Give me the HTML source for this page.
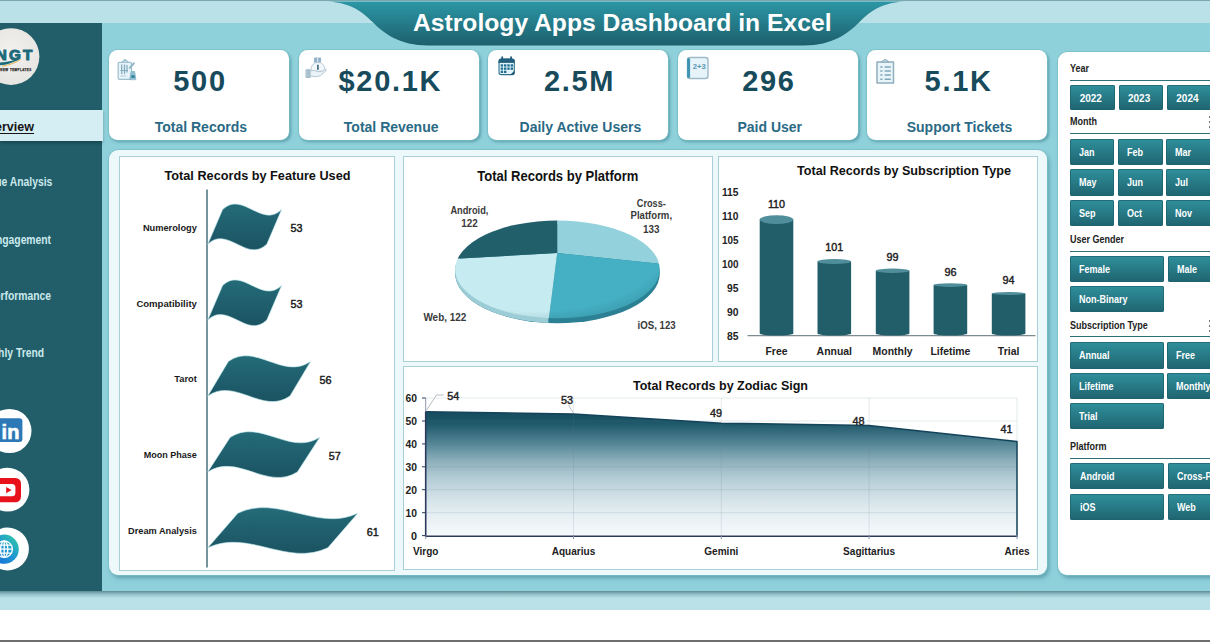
<!DOCTYPE html>
<html><head><meta charset="utf-8"><title>Astrology Apps Dashboard in Excel</title>
<style>
html,body{margin:0;padding:0;width:1210px;height:642px;overflow:hidden;}
#root{position:absolute;left:0;top:0;width:1210px;height:642px;overflow:hidden;background:#8fd1db;}
body{width:1210px;height:642px;overflow:hidden;position:relative;background:#8fd1db;font-family:"Liberation Sans", sans-serif;}
.abs{position:absolute;}
.card{position:absolute;top:50.300px;height:90.200px;width:180.200px;background:#fff;border-radius:8.500px;box-shadow:0 0 0 .8px #79bfc6, 1.500px 2px 3px rgba(40,110,125,.5);}
.card .num{position:absolute;left:0;right:0;top:13.900px;text-align:center;font-weight:bold;font-size:29px;line-height:34px;color:#174a5b;letter-spacing:1.700px;padding-left:2.700px;}
.card .lbl{position:absolute;left:0;right:0;top:68.400px;text-align:center;font-weight:bold;font-size:14px;line-height:16px;color:#2a6a85;padding-left:4.400px;}
.panel{position:absolute;background:#fff;border-radius:9px;box-shadow:0 0 0 .8px #79bfc6, 2px 3px 4px rgba(40,110,125,.5);}
.box{position:absolute;border:1.500px solid #a9cfd6;background:#fff;box-sizing:border-box;}
.nav{position:absolute;right:0;white-space:nowrap;font-weight:bold;font-size:12px;color:#cbe9ed;line-height:14px;transform:scaleX(.86);transform-origin:100% 50%;}
.btn{position:absolute;height:26px;border-radius:2px;background:linear-gradient(#2f909c,#1f6470);box-shadow:inset 0 0 0 .8px #1f6370;color:#fff;font-weight:bold;font-size:10px;line-height:26px;box-sizing:border-box;padding-left:9px;white-space:nowrap;overflow:hidden;}
.hd{position:absolute;left:1069.5px;font-weight:bold;font-size:10px;color:#222;line-height:12px;white-space:nowrap;transform:scaleX(.9);transform-origin:0 50%;}
.btn span{display:inline-block;transform:scaleX(.9);transform-origin:0 50%;}
.hl{position:absolute;left:1069.5px;right:0;height:1px;background:#2d7078;}
svg text{font-family:"Liberation Sans", sans-serif;}
</style></head><body><div id="root">

<div class="abs" style="left:0;top:0;width:1210px;height:22.5px;background:#b9e1e7;"></div>
<div class="abs" style="left:0;top:0;width:1210px;height:1.200px;background:linear-gradient(#86b0b5,#6c9fa6);"></div>
<div class="abs" style="left:0;top:591px;width:1210px;height:18.5px;background:linear-gradient(#5f8a93 0,#8fbec6 3px,#b9e1e7 7px,#b9e1e7 100%);"></div>
<div class="abs" style="left:0;top:609.5px;width:1210px;height:33px;background:#fff;"></div>
<div class="abs" style="left:0;top:640px;width:1210px;height:2px;background:#6e6e6e;"></div>
<svg class="abs" style="left:0px;top:0px" width="1210" height="60" viewBox="0 0 1210 60">
<defs><linearGradient id="tg" x1="0" y1="0" x2="0" y2="1"><stop offset="0" stop-color="#2c97a5"/><stop offset="1" stop-color="#1d5f6d"/></linearGradient></defs>
<path d="M328,1.5 C352,3 362,12 372.6,22 C383,33 400,45.5 428,45.5 L804,45.5 C832,45.5 849,33 859.4,22 C870,12 880,3 904,1.5 Z" fill="url(#tg)"/>
<text x="413" y="31.3" font-size="23" font-weight="bold" fill="#ffffff" textLength="418.5" lengthAdjust="spacingAndGlyphs">Astrology Apps Dashboard in Excel</text>
</svg>
<div class="abs" style="left:0;top:22.5px;width:101.5px;height:568.5px;background:#215e69;"></div>
<div class="abs" style="left:0;top:109.5px;width:103px;height:31px;background:#d5eef3;box-shadow:0 2px 3px rgba(0,0,0,.25);"></div>
<div class="abs" style="left:0;top:119px;width:34px;height:16px;"><div class="nav" style="font-size:13.500px;color:#151515;text-decoration:underline;text-decoration-thickness:1px;text-underline-offset:1.500px;line-height:16px;transform:scaleX(.93);">Overview</div></div>
<div class="abs" style="left:0;top:175.3px;width:52px;height:14px;"><div class="nav">Revenue Analysis</div></div>
<div class="abs" style="left:0;top:232.7px;width:51.4px;height:14px;"><div class="nav">User Engagement</div></div>
<div class="abs" style="left:0;top:289px;width:51px;height:14px;"><div class="nav">App Performance</div></div>
<div class="abs" style="left:0;top:346px;width:44px;height:14px;"><div class="nav">Monthly Trend</div></div>
<svg class="abs" style="left:0px;top:22px" width="60" height="70" viewBox="0 22 60 70">
<defs><radialGradient id="lg" cx="0.5" cy="0.45" r="0.6"><stop offset="0" stop-color="#f3f2f0"/><stop offset="1" stop-color="#e6e4e1"/></radialGradient></defs>
<circle cx="11" cy="56.6" r="28.4" fill="url(#lg)"/>
<text x="34.6" y="60.200" font-size="15.300" font-weight="bold" fill="#1c6a79" stroke="#1c6a79" stroke-width="1" text-anchor="end" letter-spacing="2.2">NGT</text>
<path d="M-4,62.600 C5,62.600 13,61 20.500,58 C15,62.500 6,65.300 -4,65.600 Z" fill="#1c6a79"/>
<path d="M2,66.300 C10,65 16,62.500 20.500,59.500" stroke="#e0a52a" stroke-width="0.8" fill="none"/>
<text x="31.700" y="71.100" font-size="2.900" stroke="#333" stroke-width="0.250" font-weight="bold" fill="#333" text-anchor="end" letter-spacing="0.5">NEW TEMPLATES</text>
</svg>
<svg class="abs" style="left:0px;top:400px" width="60" height="180" viewBox="0 400 60 180">
<defs><linearGradient id="gg" x1="0" y1="1" x2="1" y2="0"><stop offset="0" stop-color="#1565d8"/><stop offset="0.55" stop-color="#1f9ad0"/><stop offset="1" stop-color="#35cfa0"/></linearGradient></defs>
<circle cx="9.4" cy="431" r="22.1" fill="#fff"/>
<rect x="-10" y="418.2" width="32.4" height="23.8" rx="3" fill="#2d78b7"/>
<text x="19.4" y="438.6" font-size="20" font-weight="bold" fill="#fff" stroke="#fff" stroke-width="0.6" text-anchor="end">in</text>
<circle cx="7.5" cy="489.7" r="21.9" fill="#fff"/>
<rect x="-12" y="478" width="33" height="24.3" rx="5.5" fill="#e8131a"/>
<rect x="-6" y="484" width="21.4" height="12.2" rx="3.5" fill="#fff"/>
<path d="M6.2,487 L11.6,490.1 L6.2,493.2 Z" fill="#e8131a"/>
<circle cx="7.5" cy="549" r="21.4" fill="#fff"/>
<circle cx="4.2" cy="549.2" r="14.6" fill="url(#gg)"/>
<g fill="none" stroke="#fff" stroke-width="1.3"><circle cx="4.2" cy="549.2" r="8.2"/><ellipse cx="4.2" cy="549.2" rx="3.6" ry="8.2"/><path d="M-4,549.2H12.4M-3,545.2H11.4M-3,553.2H11.4M4.2,541V557.4"/></g>
</svg>
<div class="card" style="left:108.6px;"><div class="num">500</div><div class="lbl">Total Records</div></div>
<div class="card" style="left:298.9px;"><div class="num">$20.1K</div><div class="lbl">Total Revenue</div></div>
<div class="card" style="left:488.1px;"><div class="num">2.5M</div><div class="lbl">Daily Active Users</div></div>
<div class="card" style="left:677.5px;"><div class="num">296</div><div class="lbl">Paid User</div></div>
<div class="card" style="left:867.2px;"><div class="num">5.1K</div><div class="lbl">Support Tickets</div></div>
<svg class="abs" style="left:100px;top:50px" width="960" height="50" viewBox="100 50 960 50">
<g fill="none" stroke-linejoin="round" stroke-linecap="round">
 <!-- records icon: clipboard + pencil + mini chart -->
 <rect x="118.200" y="62.300" width="13.300" height="17" rx="1" fill="#e6f3f8" stroke="#9fc0cf" stroke-width="1.200"/>
 <path d="M121.500,62.300 L125,59.300 L128.500,62.300 Z" fill="#d3e6ee" stroke="#9fc0cf" stroke-width="1.100"/>
 <path d="M121.700,65 V73.500 M124.500,65 V73.500 M127,65.500 V72" stroke="#86adc0" stroke-width="1.300"/>
 <path d="M120.800,70.500 H127.500" stroke="#86adc0" stroke-width="1"/>
 <path d="M120.800,76 H126" stroke="#b5d0dc" stroke-width="1"/>
 <path d="M133.800,63.300 L129.800,67.800" stroke="#8fb3c7" stroke-width="2"/>
 <path d="M129.800,79.300 L131.200,71.500 H134.600 L135.800,79.300 Z" fill="#8fc0d2" stroke="#7fb0c4" stroke-width="0.800"/>
 <rect x="131.400" y="75.300" width="3.200" height="2.600" fill="#2f7f9d" stroke="none"/>
 <!-- revenue icon: money bag on a hand -->
 <path d="M314.800,58 h5.800 v4.200 h-5.800 Z" fill="#8fb0cc" stroke="#86a8c6" stroke-width="0.800"/>
 <path d="M317.700,58 v4" stroke="#e9f2f8" stroke-width="1"/>
 <path d="M315,62.600 h5.500 c3,2 4.300,4.400 4.300,6 c0,1.800 -1.700,2.800 -7,2.800 c-5.300,0 -6.600,-1.200 -6.600,-2.800 c0,-1.600 1,-4 3.800,-6 Z" fill="#f1f7fa" stroke="#b4c7d2" stroke-width="1"/>
 <path d="M317.900,65.400 v3.800" stroke="#3f6a86" stroke-width="1.700"/>
 <rect x="306.300" y="69.700" width="4" height="7.800" fill="#a9c0cf" stroke="#9ab5c6" stroke-width="0.800"/>
 <path d="M310.500,71 c2.500,-1 5,-0.500 7,0.600 h4.200 l3.600,-2.300 c1,-0.200 1.300,0.800 0.600,1.500 l-5.400,4.900 c-3,1.200 -6.600,0.900 -10,0.300 Z" fill="#e9f3f8" stroke="#b4c7d2" stroke-width="1"/>
 <!-- calendar icon -->
 <rect x="499" y="59" width="15.300" height="15.600" rx="2.200" fill="#e3f3fa" stroke="#2f6f8e" stroke-width="1.100"/>
 <path d="M499,61.200 a2.200,2.200 0 0 1 2.200,-2.200 h10.900 a2.200,2.200 0 0 1 2.200,2.200 v1.300 h-15.300 Z" fill="#215f7c" stroke="#215f7c" stroke-width="0.800"/>
 <path d="M502.200,57.200 v2.600 M511.100,57.200 v2.600" stroke="#215f7c" stroke-width="1.800"/>
 <g fill="#1f6d90" stroke="none">
  <rect x="500.700" y="64.300" width="2.400" height="2.300"/><rect x="504" y="64.300" width="2.400" height="2.300"/><rect x="507.300" y="64.300" width="2.400" height="2.300"/><rect x="510.600" y="64.300" width="2.400" height="2.300"/>
  <rect x="500.700" y="67.500" width="2.400" height="2.300"/><rect x="504" y="67.500" width="2.400" height="2.300"/><rect x="507.300" y="67.500" width="2.400" height="2.300"/><rect x="510.600" y="67.500" width="2.400" height="2.300"/>
  <rect x="500.700" y="70.700" width="2.400" height="2.300"/><rect x="504" y="70.700" width="2.400" height="2.300"/>
  <path d="M510,75 L514.600,70.400 V72.500 a2.300,2.300 0 0 1 -2.300,2.400 Z" fill="#1d5a78"/>
 </g>
 <!-- paid user icon -->
 <rect x="687.500" y="57.500" width="20.500" height="21" rx="2.500" fill="#e6f4f9" stroke="#9dbac8" stroke-width="1.400"/>
 <path d="M688.600,59.500 v17" stroke="#3f93b2" stroke-width="3"/>
 <text x="692.800" y="68.700" font-size="7" font-weight="bold" fill="#5d96b4" stroke="none" textLength="13" lengthAdjust="spacingAndGlyphs">2+3</text>
 <!-- tickets icon -->
 <rect x="877" y="62" width="16.500" height="21" fill="#e9f4f9" stroke="#8eafbd" stroke-width="1.500"/>
 <path d="M881.500,62 l3.700,-2.600 l3.700,2.600 Z" fill="#cfe0ea" stroke="#8eafbd" stroke-width="1.100"/>
 <g stroke="#7ea6bb" stroke-width="1.500" stroke-linecap="butt"><path d="M880.300,66.900h2.200M884.600,66.900h6.200M880.300,71h2.200M884.600,71h6.200M880.300,75.100h2.200M884.600,75.100h6.200M880.300,79.300h2.200M884.600,79.300h6.200"/></g>
</g></svg>
<div class="panel" style="left:109px;top:150px;width:937.5px;height:425px;background:#ecf8fa;"></div>
<div class="box" style="left:118.800px;top:156px;width:276.700px;height:415px;"></div>
<div class="box" style="left:402.5px;top:156px;width:310.5px;height:205.5px;"></div>
<div class="box" style="left:718.300px;top:156px;width:319.500px;height:205.5px;"></div>
<div class="box" style="left:402.5px;top:366px;width:635.500px;height:203.5px;"></div>
<svg class="abs" style="left:0px;top:0px" width="1210" height="642" viewBox="0 0 1210 642">
<defs>
<linearGradient id="fg" x1="0" y1="0" x2="0" y2="1"><stop offset="0" stop-color="#246b78"/><stop offset="1" stop-color="#1b5362"/></linearGradient>
<linearGradient id="ag" x1="0" y1="0" x2="0" y2="1"><stop offset="0" stop-color="#154b5e"/><stop offset="0.10" stop-color="#1f596b"/><stop offset="0.27" stop-color="#5a8a9a"/><stop offset="0.40" stop-color="#8eb0bc"/><stop offset="0.53" stop-color="#b2cbd4"/><stop offset="0.67" stop-color="#cedee5"/><stop offset="0.80" stop-color="#e2ecf1"/><stop offset="0.93" stop-color="#eff5f8"/><stop offset="1" stop-color="#f5f9fb"/></linearGradient>
<radialGradient id="psh" cx="0.40" cy="0.30" r="0.85"><stop offset="0" stop-color="#0a3540" stop-opacity="0"/><stop offset="0.72" stop-color="#0a3540" stop-opacity="0"/><stop offset="1" stop-color="#0a3540" stop-opacity="0.30"/></radialGradient>
<linearGradient id="psl" x1="0" y1="0" x2="1" y2="0"><stop offset="0" stop-color="#fff" stop-opacity="0.55"/><stop offset="0.22" stop-color="#fff" stop-opacity="0"/><stop offset="1" stop-color="#fff" stop-opacity="0"/></linearGradient>
<clipPath id="pc"><ellipse cx="557.5" cy="269.400" rx="102.3" ry="48.900"/></clipPath>
</defs>
<text x="164.5" y="180" font-size="13.5" font-weight="bold" fill="#111" text-anchor="start" textLength="186" lengthAdjust="spacingAndGlyphs" >Total Records by Feature Used</text>
<path d="M207,189.500 V567.500" stroke="#557a84" stroke-width="1.600" fill="none"/>
<path d="M222.6,209.6 C242.2,190.3 261.9,228.8 281.6,209.6 L266.8,244.2 C247.2,263.5 227.5,225.0 207.8,244.2 Z" fill="url(#fg)" stroke="#bfe9ef" stroke-width="0.600"/>
<text x="196.9" y="231.1" font-size="9.7" font-weight="bold" fill="#1a1a1a" text-anchor="end" textLength="54" lengthAdjust="spacingAndGlyphs" >Numerology</text>
<text x="290.6" y="232.0" font-size="10.8" font-weight="normal" fill="#1a1a1a" text-anchor="start" stroke="#1a1a1a" stroke-width="0.42" >53</text>
<path d="M222.6,285.5 C242.2,266.2 261.9,304.7 281.6,285.5 L266.8,320.1 C247.2,339.4 227.5,300.9 207.8,320.1 Z" fill="url(#fg)" stroke="#bfe9ef" stroke-width="0.600"/>
<text x="196.9" y="306.75" font-size="9.7" font-weight="bold" fill="#1a1a1a" text-anchor="end" textLength="60.5" lengthAdjust="spacingAndGlyphs" >Compatibility</text>
<text x="290.6" y="307.90000000000003" font-size="10.8" font-weight="normal" fill="#1a1a1a" text-anchor="start" stroke="#1a1a1a" stroke-width="0.42" >53</text>
<path d="M228.4,361.4 C255.8,342.1 283.2,380.6 310.6,361.4 L290.0,396.0 C262.6,415.3 235.2,376.8 207.8,396.0 Z" fill="url(#fg)" stroke="#bfe9ef" stroke-width="0.600"/>
<text x="196.9" y="382.4" font-size="9.7" font-weight="bold" fill="#1a1a1a" text-anchor="end" textLength="22.6" lengthAdjust="spacingAndGlyphs" >Tarot</text>
<text x="319.6" y="383.8" font-size="10.8" font-weight="normal" fill="#1a1a1a" text-anchor="start" stroke="#1a1a1a" stroke-width="0.42" >56</text>
<path d="M230.2,437.3 C260.1,418.0 289.9,456.5 319.8,437.3 L297.4,471.9 C267.5,491.2 237.7,452.7 207.8,471.9 Z" fill="url(#fg)" stroke="#bfe9ef" stroke-width="0.600"/>
<text x="196.9" y="458.04999999999995" font-size="9.7" font-weight="bold" fill="#1a1a1a" text-anchor="end" textLength="53.2" lengthAdjust="spacingAndGlyphs" >Moon Phase</text>
<text x="328.8" y="459.7" font-size="10.8" font-weight="normal" fill="#1a1a1a" text-anchor="start" stroke="#1a1a1a" stroke-width="0.42" >57</text>
<path d="M237.8,513.2 C277.8,493.9 317.8,532.4 357.8,513.2 L327.8,547.8 C287.8,567.1 247.8,528.6 207.8,547.8 Z" fill="url(#fg)" stroke="#bfe9ef" stroke-width="0.600"/>
<text x="196.9" y="533.6999999999999" font-size="9.7" font-weight="bold" fill="#1a1a1a" text-anchor="end" textLength="68.9" lengthAdjust="spacingAndGlyphs" >Dream Analysis</text>
<text x="366.8" y="535.6" font-size="10.8" font-weight="normal" fill="#1a1a1a" text-anchor="start" stroke="#1a1a1a" stroke-width="0.42" >61</text>
<text x="477.3" y="181" font-size="14" font-weight="bold" fill="#111" text-anchor="start" textLength="161" lengthAdjust="spacingAndGlyphs" >Total Records by Platform</text>
<ellipse cx="557.500" cy="273.600" rx="102.300" ry="49.600" fill="#2b8193"/>
<path d="M455.2,273.600 A102.300,49.600 0 0 0 548.400,323 L548.400,300 L455.200,265 Z" fill="#9ccdd6"/>
<g clip-path="url(#pc)">
<path d="M557.2,253.0 L557.2,200 L700,200 L700,262 L654.7,263.3 Z" fill="#93d2dc"/>
<path d="M557.2,253.0 L654.7,263.3 L700,264 L700,340 L547.5,340 L548.400,322 Z" fill="#45afc3"/>
<path d="M557.2,253.0 L548.400,322 L547.5,340 L420,340 L420,259 L460.300,258.600 Z" fill="#c6ebf1"/>
<path d="M557.2,253.0 L460.300,258.600 L420,259 L420,200 L557.2,200 Z" fill="#215f6b"/>
<rect x="455" y="220" width="205" height="100" fill="url(#psh)"/>
<path d="M557.200,253 L548.400,322 L547.5,340 L420,340 L420,259 L460.300,258.600 Z" fill="url(#psl)"/>
</g>
<text x="469.4" y="214" font-size="11.5" font-weight="bold" fill="#3a3a3a" text-anchor="middle" textLength="38" lengthAdjust="spacingAndGlyphs" >Android,</text>
<text x="469.4" y="227.3" font-size="11.5" font-weight="bold" fill="#3a3a3a" text-anchor="middle" textLength="16.5" lengthAdjust="spacingAndGlyphs" >122</text>
<text x="651.3" y="207" font-size="11.5" font-weight="bold" fill="#3a3a3a" text-anchor="middle" textLength="29" lengthAdjust="spacingAndGlyphs" >Cross-</text>
<text x="651.3" y="219.3" font-size="11.5" font-weight="bold" fill="#3a3a3a" text-anchor="middle" textLength="41.5" lengthAdjust="spacingAndGlyphs" >Platform,</text>
<text x="651.3" y="232.8" font-size="11.5" font-weight="bold" fill="#3a3a3a" text-anchor="middle" textLength="16.5" lengthAdjust="spacingAndGlyphs" >133</text>
<text x="423.4" y="321.3" font-size="11.5" font-weight="bold" fill="#3a3a3a" text-anchor="start" textLength="43" lengthAdjust="spacingAndGlyphs" >Web, 122</text>
<text x="637.6" y="329" font-size="11.5" font-weight="bold" fill="#3a3a3a" text-anchor="start" textLength="38" lengthAdjust="spacingAndGlyphs" >iOS, 123</text>
<text x="797" y="174.8" font-size="13" font-weight="bold" fill="#111" text-anchor="start" textLength="214" lengthAdjust="spacingAndGlyphs" >Total Records by Subscription Type</text>
<text x="738.5" y="196" font-size="11" font-weight="bold" fill="#222" text-anchor="end" textLength="16.5" lengthAdjust="spacingAndGlyphs" >115</text>
<text x="738.5" y="220.3" font-size="11" font-weight="bold" fill="#222" text-anchor="end" textLength="16.5" lengthAdjust="spacingAndGlyphs" >110</text>
<text x="738.5" y="244.3" font-size="11" font-weight="bold" fill="#222" text-anchor="end" textLength="16.5" lengthAdjust="spacingAndGlyphs" >105</text>
<text x="738.5" y="268" font-size="11" font-weight="bold" fill="#222" text-anchor="end" textLength="16.5" lengthAdjust="spacingAndGlyphs" >100</text>
<text x="738.5" y="292.3" font-size="11" font-weight="bold" fill="#222" text-anchor="end" textLength="11.5" lengthAdjust="spacingAndGlyphs" >95</text>
<text x="738.5" y="316" font-size="11" font-weight="bold" fill="#222" text-anchor="end" textLength="11.5" lengthAdjust="spacingAndGlyphs" >90</text>
<text x="738.5" y="340.3" font-size="11" font-weight="bold" fill="#222" text-anchor="end" textLength="11.5" lengthAdjust="spacingAndGlyphs" >85</text>
<path d="M747.500,335.600 H1035.500" stroke="#7b8d92" stroke-width="1.200"/>
<path d="M759.7,219.54999999999998 V333.500 A16.8,2 0 0 0 793.3000000000001,333.500 V219.54999999999998 Z" fill="#215e6a"/>
<ellipse cx="776.5" cy="219.54999999999998" rx="16.8" ry="4.35" fill="#4f8e9a"/>
<text x="776.5" y="207.6" font-size="10.8" font-weight="normal" fill="#222" text-anchor="middle" stroke="#222" stroke-width="0.42" >110</text>
<text transform="translate(776.5,355.2) scale(0.95,1)" font-size="11" font-weight="bold" fill="#222" text-anchor="middle" >Free</text>
<path d="M817.5,261.5 V333.500 A16.8,2 0 0 0 851.1,333.500 V261.5 Z" fill="#215e6a"/>
<ellipse cx="834.3" cy="261.5" rx="16.8" ry="2.5" fill="#4f8e9a"/>
<text x="834.3" y="251.4" font-size="10.8" font-weight="normal" fill="#222" text-anchor="middle" stroke="#222" stroke-width="0.42" >101</text>
<text transform="translate(834.3,355.2) scale(0.95,1)" font-size="11" font-weight="bold" fill="#222" text-anchor="middle" >Annual</text>
<path d="M875.8,270.75 V333.500 A16.8,2 0 0 0 909.4,333.500 V270.75 Z" fill="#215e6a"/>
<ellipse cx="892.5999999999999" cy="270.75" rx="16.8" ry="2.25" fill="#4f8e9a"/>
<text x="892.5999999999999" y="260.9" font-size="10.8" font-weight="normal" fill="#222" text-anchor="middle" stroke="#222" stroke-width="0.42" >99</text>
<text transform="translate(892.5999999999999,355.2) scale(0.95,1)" font-size="11" font-weight="bold" fill="#222" text-anchor="middle" >Monthly</text>
<path d="M933.6,285.05 V333.500 A16.8,2 0 0 0 967.2,333.500 V285.05 Z" fill="#215e6a"/>
<ellipse cx="950.4" cy="285.05" rx="16.8" ry="1.85" fill="#4f8e9a"/>
<text x="950.4" y="275.59999999999997" font-size="10.8" font-weight="normal" fill="#222" text-anchor="middle" stroke="#222" stroke-width="0.42" >96</text>
<text transform="translate(950.4,355.2) scale(0.95,1)" font-size="11" font-weight="bold" fill="#222" text-anchor="middle" >Lifetime</text>
<path d="M991.8,293.45 V333.500 A16.8,2 0 0 0 1025.3999999999999,333.500 V293.45 Z" fill="#215e6a"/>
<ellipse cx="1008.5999999999999" cy="293.45" rx="16.8" ry="1.45" fill="#4f8e9a"/>
<text x="1008.5999999999999" y="284.4" font-size="10.8" font-weight="normal" fill="#222" text-anchor="middle" stroke="#222" stroke-width="0.42" >94</text>
<text transform="translate(1008.5999999999999,355.2) scale(0.95,1)" font-size="11" font-weight="bold" fill="#222" text-anchor="middle" >Trial</text>
<text x="633" y="389.5" font-size="13" font-weight="bold" fill="#111" text-anchor="start" textLength="175" lengthAdjust="spacingAndGlyphs" >Total Records by Zodiac Sign</text>
<path d="M425.7,535.6 L425.7,411.8 L573.5,414.1 L721.3,423.2 L869.1,425.5 L1017.0,441.6 L1017,535.6 Z" fill="url(#ag)"/>
<path d="M425.700,512.7 H1017" stroke="#5f7c88" stroke-opacity="0.160" stroke-width="1"/>
<path d="M425.700,489.7 H1017" stroke="#5f7c88" stroke-opacity="0.160" stroke-width="1"/>
<path d="M425.700,466.8 H1017" stroke="#5f7c88" stroke-opacity="0.160" stroke-width="1"/>
<path d="M425.700,443.9 H1017" stroke="#5f7c88" stroke-opacity="0.160" stroke-width="1"/>
<path d="M425.700,421.0 H1017" stroke="#5f7c88" stroke-opacity="0.160" stroke-width="1"/>
<path d="M425.700,398.0 H1017" stroke="#5f7c88" stroke-opacity="0.160" stroke-width="1"/>
<path d="M573.5,398 V535.6" stroke="#5f7c88" stroke-opacity="0.160" stroke-width="1"/>
<path d="M721.3,398 V535.6" stroke="#5f7c88" stroke-opacity="0.160" stroke-width="1"/>
<path d="M869.1,398 V535.6" stroke="#5f7c88" stroke-opacity="0.160" stroke-width="1"/>
<path d="M1017,398 V535.6" stroke="#5f7c88" stroke-opacity="0.160" stroke-width="1"/>
<path d="M425.7,411.8 L573.5,414.1 L721.3,423.2 L869.1,425.5 L1017.0,441.6 L1017,535.6" stroke="#14445a" stroke-width="1.500" fill="none" stroke-linejoin="round"/>
<path d="M425.700,398 V412" stroke="#8f96b4" stroke-width="1" fill="none"/>
<path d="M425.700,411.500 V536.3000000000001 H1017.700" stroke="#2b3a5c" stroke-width="1.600" fill="none"/>
<path d="M422,535.6 H425.700" stroke="#2b3a5c" stroke-width="1"/>
<text x="417" y="539.6" font-size="11" font-weight="bold" fill="#222" text-anchor="end" textLength="6" lengthAdjust="spacingAndGlyphs" >0</text>
<path d="M422,512.7 H425.700" stroke="#2b3a5c" stroke-width="1"/>
<text x="417" y="516.6700000000001" font-size="11" font-weight="bold" fill="#222" text-anchor="end" textLength="11.5" lengthAdjust="spacingAndGlyphs" >10</text>
<path d="M422,489.7 H425.700" stroke="#2b3a5c" stroke-width="1"/>
<text x="417" y="493.74" font-size="11" font-weight="bold" fill="#222" text-anchor="end" textLength="11.5" lengthAdjust="spacingAndGlyphs" >20</text>
<path d="M422,466.8 H425.700" stroke="#2b3a5c" stroke-width="1"/>
<text x="417" y="470.81" font-size="11" font-weight="bold" fill="#222" text-anchor="end" textLength="11.5" lengthAdjust="spacingAndGlyphs" >30</text>
<path d="M422,443.9 H425.700" stroke="#2b3a5c" stroke-width="1"/>
<text x="417" y="447.88" font-size="11" font-weight="bold" fill="#222" text-anchor="end" textLength="11.5" lengthAdjust="spacingAndGlyphs" >40</text>
<path d="M422,421.0 H425.700" stroke="#2b3a5c" stroke-width="1"/>
<text x="417" y="424.95000000000005" font-size="11" font-weight="bold" fill="#222" text-anchor="end" textLength="11.5" lengthAdjust="spacingAndGlyphs" >50</text>
<path d="M422,398.0 H425.700" stroke="#2b3a5c" stroke-width="1"/>
<text x="417" y="402.02" font-size="11" font-weight="bold" fill="#222" text-anchor="end" textLength="11.5" lengthAdjust="spacingAndGlyphs" >60</text>
<path d="M425.7,535.6 V539.1" stroke="#8a95a5" stroke-width="1"/>
<path d="M573.5,535.6 V539.1" stroke="#8a95a5" stroke-width="1"/>
<path d="M721.3,535.6 V539.1" stroke="#8a95a5" stroke-width="1"/>
<path d="M869.1,535.6 V539.1" stroke="#8a95a5" stroke-width="1"/>
<path d="M1017,535.6 V539.1" stroke="#8a95a5" stroke-width="1"/>
<path d="M443.600,395 H436.500 L426.300,410.500" stroke="#b5bcc2" stroke-width="1" fill="none"/>
<path d="M568.500,405 L573,412.500" stroke="#b5bcc2" stroke-width="1" fill="none"/>
<text x="453.3" y="400" font-size="10.8" font-weight="normal" fill="#222" text-anchor="middle" stroke="#222" stroke-width="0.42" >54</text>
<text x="567" y="404" font-size="10.8" font-weight="normal" fill="#222" text-anchor="middle" stroke="#222" stroke-width="0.42" >53</text>
<text x="715.9" y="417.2" font-size="10.8" font-weight="normal" fill="#222" text-anchor="middle" stroke="#222" stroke-width="0.42" >49</text>
<text x="858.6" y="424.7" font-size="10.8" font-weight="normal" fill="#222" text-anchor="middle" stroke="#222" stroke-width="0.42" >48</text>
<text x="1006.5" y="432.8" font-size="10.8" font-weight="normal" fill="#222" text-anchor="middle" stroke="#222" stroke-width="0.42" >41</text>
<text transform="translate(425.7,555.4) scale(0.95,1)" font-size="10.6" font-weight="bold" fill="#222" text-anchor="middle" >Virgo</text>
<text transform="translate(573.5,555.4) scale(0.95,1)" font-size="10.6" font-weight="bold" fill="#222" text-anchor="middle" >Aquarius</text>
<text transform="translate(721.3,555.4) scale(0.95,1)" font-size="10.6" font-weight="bold" fill="#222" text-anchor="middle" >Gemini</text>
<text transform="translate(869.1,555.4) scale(0.95,1)" font-size="10.6" font-weight="bold" fill="#222" text-anchor="middle" >Sagittarius</text>
<text transform="translate(1017,555.4) scale(0.95,1)" font-size="10.6" font-weight="bold" fill="#222" text-anchor="middle" >Aries</text>
</svg>
<div class="panel" style="left:1058.200px;top:52.300px;width:170px;height:523.200px;"></div>
<div class="hd" style="top:62.85000000000001px;">Year</div><div class="hl" style="top:80.0px;"></div>
<div class="btn" style="left:1070.4px;top:85.2px;width:44.4px;height:25px;line-height:27.2px;padding-left:9.3px;">2022</div>
<div class="btn" style="left:1118.7px;top:85.2px;width:44.4px;height:25px;line-height:27.2px;padding-left:9.3px;">2023</div>
<div class="btn" style="left:1167.0px;top:85.2px;width:44.4px;height:25px;line-height:27.2px;padding-left:9.3px;">2024</div>
<div class="hd" style="top:116.45px;">Month</div><div class="hl" style="top:132.8px;"></div>
<div class="btn" style="left:1069.7px;top:139.0px;width:44.5px;height:26.3px;line-height:28.5px;padding-left:9.2px;"><span>Jan</span></div>
<div class="btn" style="left:1118.0px;top:139.0px;width:44.5px;height:26.3px;line-height:28.5px;padding-left:9.2px;"><span>Feb</span></div>
<div class="btn" style="left:1166.3px;top:139.0px;width:44.5px;height:26.3px;line-height:28.5px;padding-left:9.2px;"><span>Mar</span></div>
<div class="btn" style="left:1069.7px;top:169.25px;width:44.5px;height:26.3px;line-height:28.5px;padding-left:9.2px;"><span>May</span></div>
<div class="btn" style="left:1118.0px;top:169.25px;width:44.5px;height:26.3px;line-height:28.5px;padding-left:9.2px;"><span>Jun</span></div>
<div class="btn" style="left:1166.3px;top:169.25px;width:44.5px;height:26.3px;line-height:28.5px;padding-left:9.2px;"><span>Jul</span></div>
<div class="btn" style="left:1069.7px;top:199.5px;width:44.5px;height:26.3px;line-height:28.5px;padding-left:9.2px;"><span>Sep</span></div>
<div class="btn" style="left:1118.0px;top:199.5px;width:44.5px;height:26.3px;line-height:28.5px;padding-left:9.2px;"><span>Oct</span></div>
<div class="btn" style="left:1166.3px;top:199.5px;width:44.5px;height:26.3px;line-height:28.5px;padding-left:9.2px;"><span>Nov</span></div>
<div class="hd" style="top:233.64999999999998px;">User Gender</div><div class="hl" style="top:250.7px;"></div>
<div class="btn" style="left:1070.3px;top:255.8px;width:93.6px;height:26.3px;line-height:28.5px;padding-left:9.2px;"><span>Female</span></div>
<div class="btn" style="left:1167.7px;top:255.8px;width:60px;height:26.3px;line-height:28.5px;padding-left:9.2px;"><span>Male</span></div>
<div class="btn" style="left:1070.3px;top:286.2px;width:93.6px;height:26.3px;line-height:28.5px;padding-left:9.2px;"><span>Non-Binary</span></div>
<div class="hd" style="top:320.05px;">Subscription Type</div><div class="hl" style="top:336.2px;"></div>
<div class="btn" style="left:1070px;top:342.4px;width:93.5px;height:26.3px;line-height:28.5px;padding-left:9.2px;"><span>Annual</span></div>
<div class="btn" style="left:1167.2px;top:342.4px;width:60px;height:26.3px;line-height:28.5px;padding-left:9.2px;"><span>Free</span></div>
<div class="btn" style="left:1070px;top:372.6px;width:93.5px;height:26.3px;line-height:28.5px;padding-left:9.2px;"><span>Lifetime</span></div>
<div class="btn" style="left:1167.2px;top:372.6px;width:60px;height:26.3px;line-height:28.5px;padding-left:9.2px;"><span>Monthly</span></div>
<div class="btn" style="left:1070px;top:402.9px;width:93.5px;height:26.3px;line-height:28.5px;padding-left:9.2px;"><span>Trial</span></div>
<div class="hd" style="top:440.84999999999997px;">Platform</div><div class="hl" style="top:457.8px;"></div>
<div class="btn" style="left:1070.4px;top:463.2px;width:93.6px;height:26.3px;line-height:28.5px;padding-left:9.2px;"><span>Android</span></div>
<div class="btn" style="left:1167.6px;top:463.2px;width:60px;height:26.3px;line-height:28.5px;padding-left:9.2px;"><span>Cross-Platform</span></div>
<div class="btn" style="left:1070.4px;top:493.6px;width:93.6px;height:26.3px;line-height:28.5px;padding-left:9.2px;"><span>iOS</span></div>
<div class="btn" style="left:1167.6px;top:493.6px;width:60px;height:26.3px;line-height:28.5px;padding-left:9.2px;"><span>Web</span></div>
<div class="abs" style="left:1208.500px;top:115.500px;width:1.500px;height:13px;background:repeating-linear-gradient(#777 0 2px,transparent 2px 5px);"></div>
<div class="abs" style="left:1208.500px;top:319.500px;width:1.500px;height:13px;background:repeating-linear-gradient(#777 0 2px,transparent 2px 5px);"></div>
</div></body></html>
